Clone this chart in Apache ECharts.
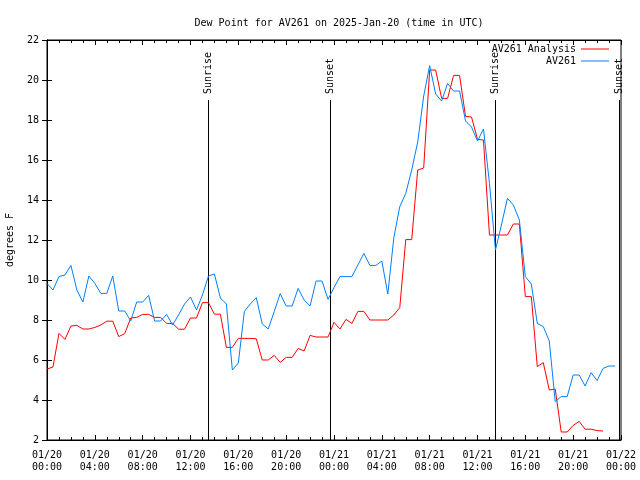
<!DOCTYPE html>
<html><head><meta charset="utf-8">
<script src="https://cdn.jsdelivr.net/npm/echarts@6/dist/echarts.min.js"></script>
<style>html,body{margin:0;padding:0;background:#fff}#c{width:640px;height:480px}</style>
</head><body><div id="c"></div>
<script>
const FONT = 'DejaVu Sans Mono';
const titleText = 'Dew Point for AV261 on 2025-Jan-20 (time in UTC)';
const seriesNames = ['AV261 Analysis', 'AV261'];
const stepHours = 0.5; // observations every 30 minutes from 01/20 00:00 UTC

const analysisValues = [
  5.55, 5.65, 7.33, 7.03, 7.7, 7.73, 7.55, 7.55, 7.63, 7.75,
  7.94, 7.94, 7.17, 7.32, 8.1, 8.13, 8.28, 8.28, 8.13, 8.13,
  7.83, 7.83, 7.54, 7.54, 8.1, 8.1, 8.87, 8.87, 8.29, 8.29,
  6.63, 6.63, 7.08, 7.08, 7.08, 7.06, 6.0, 6.0, 6.23, 5.88,
  6.13, 6.13, 6.58, 6.45, 7.23, 7.15, 7.15, 7.15, 7.88, 7.55,
  8.03, 7.83, 8.43, 8.43, 8.0, 8.0, 8.0, 8.0, 8.25, 8.62,
  12.02, 12.02, 15.5, 15.6, 20.5, 20.5, 19.08, 19.08, 20.23, 20.23,
  18.18, 18.15, 17.03, 17.0, 12.25, 12.25, 12.25, 12.25, 12.8, 12.8,
  9.17, 9.17, 5.67, 5.87, 4.5, 4.55, 2.4, 2.4, 2.73, 2.93,
  2.54, 2.54, 2.47, 2.45
];

const stationValues = [
  9.83, 9.5, 10.17, 10.25, 10.73, 9.5, 8.9, 10.2, 9.83, 9.33,
  9.33, 10.2, 8.45, 8.45, 7.95, 8.9, 8.9, 9.23, 7.95, 7.95,
  8.28, 7.75, 8.25, 8.8, 9.15, 8.5, 9.25, 10.2, 10.3, 9.1,
  8.8, 5.5, 5.85, 8.42, 8.8, 9.12, 7.8, 7.55, 8.42, 9.32,
  8.7, 8.7, 9.58, 9.0, 8.7, 9.95, 9.95, 9.03, 9.62, 10.17,
  10.17, 10.17, 10.75, 11.33, 10.73, 10.73, 10.95, 9.3, 12.1, 13.67,
  14.33, 15.5, 16.9, 19.2, 20.72, 19.3, 18.95, 19.83, 19.45, 19.45,
  17.95, 17.65, 16.95, 17.55, 14.83, 11.5, 12.75, 14.08, 13.75, 13.0,
  10.17, 9.8, 7.83, 7.67, 6.95, 3.92, 4.17, 4.17, 5.25, 5.25,
  4.7, 5.37, 4.97, 5.58, 5.7, 5.7
];

const xTickLabels = [
  '01/20\n00:00', '01/20\n04:00', '01/20\n08:00', '01/20\n12:00', '01/20\n16:00',
  '01/20\n20:00', '01/21\n00:00', '01/21\n04:00', '01/21\n08:00', '01/21\n12:00',
  '01/21\n16:00', '01/21\n20:00', '01/22\n00:00'
];

const eventNames = ['Sunrise', 'Sunset', 'Sunrise', 'Sunset'];
const eventHours = [13.47, 23.67, 37.47, 47.83];
const eventTop = 19;

const chart = echarts.init(document.getElementById('c'), null, {renderer: 'canvas'});

const txt = {fontFamily: FONT, fontSize: 10, color: '#000'};

function xAxisCfg(pos, showLabel) {
  return {
    type: 'value', min: 0, max: 48, interval: 4, position: pos,
    axisLine: {show: true, lineStyle: {color: '#000', width: 1}},
    axisTick: {show: true, inside: true, length: 5, lineStyle: {color: '#000'}},
    minorTick: {show: true, splitNumber: 4, length: 3, lineStyle: {color: '#000'}},
    splitLine: {show: false},
    minorSplitLine: {show: false},
    axisLabel: {
      show: showLabel, margin: 9, lineHeight: 12, ...txt,
      formatter: v => xTickLabels[Math.round(v / 4)]
    }
  };
}
function yAxisCfg(pos, showLabel) {
  const c = {
    type: 'value', min: 2, max: 22, interval: 2, position: pos,
    axisLine: {show: true, lineStyle: {color: '#000', width: 1}},
    axisTick: {show: true, inside: true, length: 5, lineStyle: {color: '#000'}},
    splitLine: {show: false},
    axisLabel: {show: showLabel, margin: 8, ...txt}
  };
  if (showLabel) {
    c.name = 'degrees F';
    c.nameLocation = 'middle';
    c.nameRotate = 90;
    c.nameGap = 32;
    c.nameTextStyle = {...txt};
  }
  return c;
}

const legendCommon = {
  right: 31, padding: 0, align: 'right', icon: 'rect',
  itemWidth: 28, itemHeight: 1, itemGap: 0, textStyle: {...txt}
};

const option = {
  animation: false,
  backgroundColor: '#fff',
  title: {
    text: titleText, left: 334, top: 13, textAlign: 'center',
    textStyle: {...txt, fontWeight: 'normal'}
  },
  legend: [
    {...legendCommon, data: [seriesNames[0]], top: 44},
    {...legendCommon, data: [seriesNames[1]], top: 56}
  ],
  grid: {left: 47, right: 19, top: 40, bottom: 40, show: true, borderColor: '#000', borderWidth: 1,
         containLabel: false, outerBoundsMode: 'none'},
  xAxis: [xAxisCfg('bottom', true), xAxisCfg('top', false)],
  yAxis: [yAxisCfg('left', true), yAxisCfg('right', false)],
  series: [
    {
      name: seriesNames[0], type: 'line', xAxisIndex: 0, yAxisIndex: 0,
      symbol: 'none', color: '#ff0000',
      lineStyle: {width: 1, color: '#ff0000'},
      data: analysisValues.map((v, i) => [i * stepHours, v])
    },
    {
      name: seriesNames[1], type: 'line', xAxisIndex: 0, yAxisIndex: 0,
      symbol: 'none', color: '#0080ff',
      lineStyle: {width: 1, color: '#0080ff'},
      data: stationValues.map((v, i) => [i * stepHours, v])
    },
    {
      name: 'events', type: 'custom', xAxisIndex: 0, yAxisIndex: 0, clip: false,
      silent: true, z: 1,
      data: eventHours.map(h => [h, eventTop]),
      encode: {x: 0, y: 1},
      renderItem: function (params, api) {
        const t = api.value(0);
        const p1 = api.coord([t, eventTop]);
        const p2 = api.coord([t, 2]);
        const x = Math.round(p1[0]) + 0.5;
        return {
          type: 'group',
          children: [
            {type: 'line', shape: {x1: x, y1: p1[1], x2: x, y2: p2[1]},
             style: {stroke: '#000', lineWidth: 1}},
            {type: 'text', x: x, y: p1[1] - 6, rotation: Math.PI / 2,
             style: {text: eventNames[params.dataIndex], fill: '#000',
                     font: '10px "DejaVu Sans Mono"', align: 'left', verticalAlign: 'middle'}}
          ]
        };
      }
    }
  ]
};
chart.setOption(option);
</script>
</body></html>
